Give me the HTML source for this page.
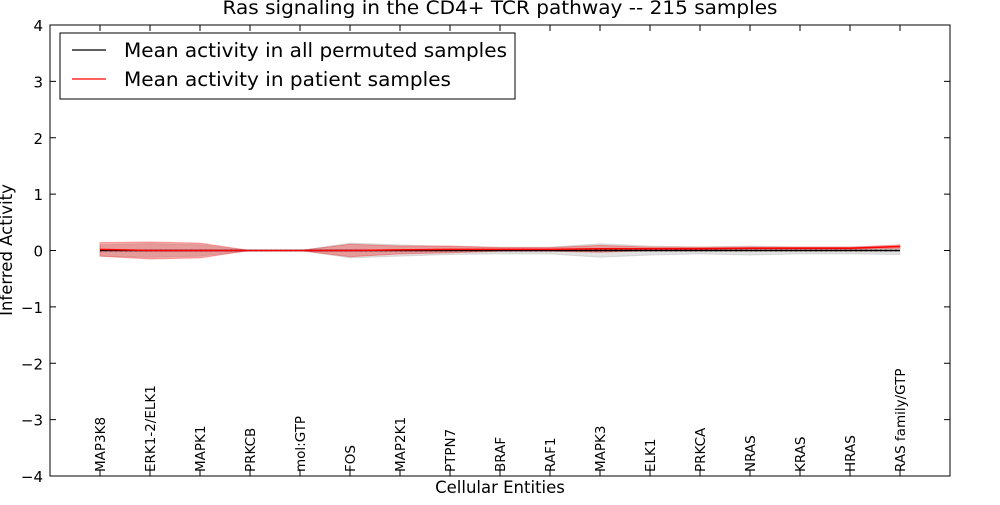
<!DOCTYPE html>
<html><head><meta charset="utf-8"><style>
body{margin:0;background:#fff;font-family:"Liberation Sans","DejaVu Sans",sans-serif}
svg text{font-family:"DejaVu Sans","Liberation Sans",sans-serif}
</style></head><body>
<svg id="chart" width="1000" height="500" xmlns="http://www.w3.org/2000/svg">
<g id="bands"></g>
<rect x="50" y="25" width="900" height="451" fill="none" stroke="#000" stroke-width="1"/>
<g id="axes"></g>
<text x="500" y="14" text-anchor="middle" font-size="19" textLength="555" lengthAdjust="spacingAndGlyphs">Ras signaling in the CD4+ TCR pathway -- 215 samples</text>
<text x="500" y="493" text-anchor="middle" font-size="16.5">Cellular Entities</text>
<text transform="translate(12,250) rotate(-90)" text-anchor="middle" font-size="16.5">Inferred Activity</text>
<g>
<rect x="60" y="33" width="455" height="66" fill="#fff" stroke="#000"/>
<line x1="72" y1="50" x2="106" y2="50" stroke="#000" stroke-width="1.2"/>
<text x="124" y="57" font-size="19.5" textLength="383" lengthAdjust="spacingAndGlyphs">Mean activity in all permuted samples</text>
<line x1="72" y1="79" x2="106" y2="79" stroke="#f00" stroke-width="1.2"/>
<text x="124" y="86" font-size="19.5" textLength="327" lengthAdjust="spacingAndGlyphs">Mean activity in patient samples</text>
</g>
</svg>
<script>
const categories=["MAP3K8","ERK1-2/ELK1","MAPK1","PRKCB","mol:GTP","FOS","MAP2K1","PTPN7","BRAF","RAF1","MAPK3","ELK1","PRKCA","NRAS","KRAS","HRAS","RAS family/GTP"];
const permMean=[0,0,0,0,0,0,0,0,0,0,0,0,0,0,0,0,0];
const permSpread=[0.1,0.12,0.1,0,0,0.13,0.1,0.07,0.06,0.06,0.12,0.08,0.06,0.08,0.06,0.06,0.07];
const patMean=[0.02,0,0,0,0,0,0.01,0.02,0.02,0.02,0.03,0.03,0.03,0.04,0.04,0.04,0.07];
const patSpread=[0.12,0.15,0.13,0,0,0.11,0.07,0.06,0.03,0.03,0.06,0.03,0.03,0.02,0.02,0.02,0.03];
const yTicks=[-4,-3,-2,-1,0,1,2,3,4];
const yTickLabels=["\u22124","\u22123","\u22122","\u22121","0","1","2","3","4"];
const NS="http://www.w3.org/2000/svg";
const xs=i=>50+(i+1)*50;
const ys=v=>250.5-v*56.375;
function mk(t,a,p){const e=document.createElementNS(NS,t);for(const k in a)e.setAttribute(k,a[k]);p.appendChild(e);return e;}
const bands=document.getElementById('bands'),axes=document.getElementById('axes');
function band(mean,sp,fill,op){
 let up=mean.map((m,i)=>xs(i)+','+ys(m+sp[i]));
 let lo=mean.map((m,i)=>xs(i)+','+ys(m-sp[i])).reverse();
 return mk('polygon',{points:up.concat(lo).join(' '),fill:fill,'fill-opacity':op,stroke:fill,'stroke-opacity':op,'stroke-width':1},bands);
}
const g1=band(permMean,permSpread,'#aaa',0.35);


const r1=band(patMean,patSpread,'#e33',0.4);


const pl=mk('polyline',{points:permMean.map((m,i)=>xs(i)+','+ys(m)).join(' '),fill:'none',stroke:'#000','stroke-width':1.5},bands);


const pd=mk('polyline',{points:permMean.map((m,i)=>xs(i)+','+ys(m)).join(' '),fill:'none',stroke:'#000','stroke-width':1.5,'stroke-dasharray':'2,3'},bands);


const rl=mk('polyline',{points:patMean.map((m,i)=>xs(i)+','+ys(m)).join(' '),fill:'none',stroke:'#f00','stroke-width':1.5},bands);


yTicks.forEach((v,i)=>{
 const y=ys(v);
 mk('line',{x1:50,x2:56,y1:y,y2:y,stroke:'#000'},axes);
 mk('line',{x1:944,x2:950,y1:y,y2:y,stroke:'#000'},axes);
 const t=mk('text',{x:43,y:y+6,'text-anchor':'end','font-size':15},axes);
 t.textContent=yTickLabels[i];
 
 
});
categories.forEach((c,i)=>{
 const x=xs(i);
 mk('line',{x1:x,x2:x,y1:476,y2:470,stroke:'#000'},axes);
 mk('line',{x1:x,x2:x,y1:25,y2:31,stroke:'#000'},axes);
 const t=mk('text',{transform:`translate(${x+5},472) rotate(-90)`,'font-size':13.5},axes);
 t.textContent=c;
 
 
});
</script>
</body></html>
